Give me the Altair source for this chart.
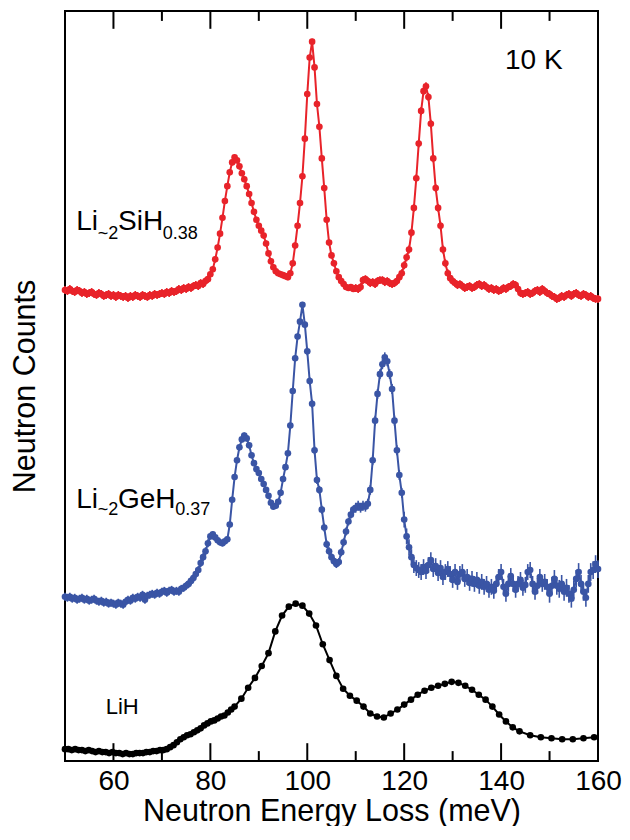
import altair as alt
import pandas as pd

FONT = "Liberation Sans"

# energy bins of the two Li-silicide / germanide spectra (meV)
bins = [50 + 0.5 * i for i in range(221)]

# Li~2SiH0.38 (offset counts, arbitrary units)
si_counts = [
    476, 475, 477, 475, 474, 476, 475, 473, 474, 472,
    473, 474, 472, 471, 473, 472, 470, 471, 472, 470,
    471, 469, 471, 470, 469, 470, 468, 470, 469, 471,
    470, 469, 471, 470, 469, 471, 470, 472, 471, 472,
    473, 472, 474, 473, 475, 474, 475, 477, 476, 478,
    477, 479, 478, 480, 481, 480, 483, 482, 485, 487,
    492, 497, 507, 519, 533, 549, 566, 581, 595, 605,
    610, 607, 601, 594, 588, 581, 573, 564, 555, 547,
    541, 536, 531, 523, 513, 505, 499, 495, 493, 492,
    491, 490, 489, 493, 503, 521, 541, 564, 591, 629,
    674, 711, 727, 701, 664, 641, 609, 579, 547, 524,
    511, 503, 495, 489, 485, 482, 479, 478, 479, 477,
    478, 477, 479, 486, 487, 485, 483, 484, 482, 485,
    486, 486, 484, 485, 483, 482, 483, 485, 489, 493,
    501, 509, 517, 534, 559, 589, 624, 657, 677, 682,
    671, 644, 609, 579, 559, 541, 517, 503, 493, 488,
    485, 483, 481, 482, 480, 478, 479, 480, 478, 479,
    481, 482, 480, 481, 479, 477, 478, 476, 477, 475,
    476, 478, 477, 479, 480, 482, 481, 477, 473, 472,
    473, 474, 472, 473, 475, 476, 474, 477, 475, 473,
    472, 470, 469, 467, 468, 470, 469, 471, 472, 470,
    472, 473, 471, 470, 472, 471, 469, 470, 468, 467,
    467,
]
# error bar half-widths, per 10 meV segment (50-60, ..., 150-160)
si_err_segments = [4, 4, 4, 3, 3, 3, 4, 4, 4, 4, 4]

# Li~2GeH0.37 (offset counts, arbitrary units)
ge_counts = [
    166, 165, 166, 164, 165, 163, 164, 165, 163, 164,
    162, 163, 164, 162, 161, 162, 160, 161, 159, 160,
    159, 158, 160, 159, 158, 161, 163, 162, 165, 164,
    166, 165, 168, 163, 167, 168, 169, 168, 170, 169,
    171, 172, 170, 172, 173, 171, 172, 171, 174, 175,
    177, 179, 182, 185, 189, 193, 200, 206, 212, 220,
    227, 229, 226, 223, 221, 220, 222, 224, 239, 264,
    287, 304, 317, 325, 329, 326, 319, 309, 301, 295,
    291, 285, 280, 274, 268, 261, 257, 258, 262, 271,
    285, 297, 311, 339, 374, 407, 429, 444, 461, 441,
    414, 384, 361, 314, 284, 274, 254, 236, 219, 212,
    206, 202, 199, 201, 211, 221, 232, 242, 249, 254,
    256, 258, 256, 258, 257, 260, 274, 304, 344, 371,
    391, 401, 408, 404, 391, 376, 344, 314, 289, 271,
    244, 227, 216, 206, 198, 195, 193, 191, 196, 192,
    198, 203, 194, 197, 190, 195, 186, 191, 194, 189,
    183, 191, 181, 189, 191, 184, 186, 180, 184, 179,
    183, 177, 181, 176, 179, 173, 176, 172, 179, 186,
    191, 176, 169, 179, 187, 179, 173, 179, 183, 175,
    178, 191, 193, 179, 171, 177, 186, 179, 181, 176,
    169, 177, 184, 177, 174, 179, 171, 175, 169, 164,
    173, 184, 191, 179, 171, 165, 179, 191, 193, 199,
    194,
]
ge_err_segments = [4, 4, 4, 3, 3, 4, 5, 8, 8, 8, 9]

# LiH
lih_energy = [
    50.0, 50.7, 51.4, 52.1, 52.8, 53.5, 54.2, 54.9, 55.6, 56.3,
    57.0, 57.7, 58.4, 59.1, 59.8, 60.5, 61.2, 61.9, 62.6, 63.3,
    64.0, 64.7, 65.4, 66.1, 66.8, 67.5, 68.2, 68.9, 69.6, 70.3,
    71.0, 71.7, 72.4, 73.1, 73.8, 74.5, 75.2, 75.9, 76.6, 77.3,
    78.0, 78.7, 79.4, 80.1, 80.8, 81.5, 82.2, 82.9, 83.6, 84.3,
    85.0, 86.4, 87.8, 89.2, 90.6, 92.0, 93.4, 94.8, 96.2, 97.6,
    99.0, 100.4, 101.8, 103.2, 104.6, 106.0, 107.4, 108.8, 110.2, 111.6,
    113.0, 114.4, 115.8, 117.2, 118.6, 120.0, 121.4, 122.8, 124.2, 125.6,
    127.0, 128.4, 129.8, 131.2, 132.6, 134.0, 135.4, 136.8, 138.2, 139.6,
    141.0, 142.4, 143.8, 146.0, 148.2, 150.4, 152.6, 154.8, 157.0, 159.2,
]
lih_counts = [
    12, 12, 11, 12, 11, 11, 10, 11, 10, 9,
    10, 9, 9, 8, 9, 8, 8, 7, 8, 7,
    7, 8, 8, 8, 9, 9, 10, 10, 11, 11,
    12, 14, 16, 19, 22, 24, 26, 27, 29, 31,
    33, 36, 38, 40, 41, 43, 45, 46, 49, 52,
    55, 63, 74, 84, 96, 109, 131, 147, 156, 159,
    157, 149, 137, 118, 102, 86, 73, 66, 61, 55,
    48, 45, 44, 48, 52, 57, 62, 67, 71, 74,
    76, 78, 80, 79, 76, 72, 67, 62, 55, 47,
    40, 34, 30, 26, 24, 23, 22, 22, 23, 24,
]

series_names = ["Li~2SiH0.38", "Li~2GeH0.37", "LiH"]
series_colors = ["#e8232a", "#3a55a5", "#000000"]
series_marker = [44, 44, 64]

x_label_values = [60, 80, 100, 120, 140, 160]
frame_ticks = [60, 70, 80, 90, 100, 110, 120, 130, 140, 150]

# annotation pieces: text, energy anchor, count anchor
main_text = ["Li", "SiH", "Li", "GeH", "10 K"]
main_x = [52.3, 60.94, 52.3, 60.94, 140.8]
main_y = [537, 537, 256, 256, 699]
sub_text = ["~2", "0.38", "~2", "0.37"]
sub_x = [56.78, 70.19, 56.78, 72.76]
sub_y = [528, 528, 249, 249]
lih_text = ["LiH"]
lih_x = [58.4]
lih_y = [47]


def seg_err(e, segs):
    return segs[min(int((e - 50) // 10), len(segs) - 1)]


rows = []
for e, c in zip(bins, si_counts):
    r = seg_err(e, si_err_segments)
    rows.append({"E": e, "C": c, "lo": c - r, "hi": c + r, "s": series_names[0]})
for e, c in zip(bins, ge_counts):
    r = seg_err(e, ge_err_segments)
    rows.append({"E": e, "C": c, "lo": c - r, "hi": c + r, "s": series_names[1]})
for e, c in zip(lih_energy, lih_counts):
    rows.append({"E": e, "C": c, "lo": c, "hi": c, "s": series_names[2]})
df = pd.DataFrame(rows)
err_df = df[df["s"] != series_names[2]]

Y_TOP = 758
tick_rows = []
for t in frame_ticks:
    L = 18 if t % 20 == 0 else 10
    tick_rows.append({"E": t, "C": 0, "C2": L})
    tick_rows.append({"E": t, "C": Y_TOP, "C2": Y_TOP - L})
ticks_df = pd.DataFrame(tick_rows)

main_df = pd.DataFrame({"E": main_x, "C": main_y, "t": main_text})
sub_df = pd.DataFrame({"E": sub_x, "C": sub_y, "t": sub_text})
lih_df = pd.DataFrame({"E": lih_x, "C": lih_y, "t": lih_text})

x_scale = alt.Scale(domain=[50, 160], nice=False, zero=False)
y_scale = alt.Scale(domain=[0, Y_TOP], nice=False, zero=False)
x_axis = alt.Axis(
    values=x_label_values, ticks=False, tickSize=0, domain=False, grid=False,
    labelFontSize=28, labelBaseline="alphabetic", labelPadding=28,
    labelFlush=False, labelOverlap=False,
    title="Neutron Energy Loss (meV)", titleFontSize=30.5,
    titleBaseline="alphabetic", titleY=59,
)
y_axis = alt.Axis(
    labels=False, ticks=False, domain=False, grid=False,
    title="Neutron Counts", titleFontSize=30.5,
    titleBaseline="alphabetic", titleX=-31,
)

X = alt.X("E:Q", scale=x_scale, axis=x_axis)
Y = alt.Y("C:Q", scale=y_scale, axis=y_axis)
color = alt.Color("s:N", scale=alt.Scale(domain=series_names, range=series_colors), legend=None)
size = alt.Size("s:N", scale=alt.Scale(domain=series_names, range=series_marker), legend=None)

errbars = alt.Chart(err_df).mark_rule(strokeWidth=1.6).encode(
    x=X, y=alt.Y("lo:Q", scale=y_scale, axis=y_axis), y2="hi:Q", color=color
)
lines = alt.Chart(df).mark_line(strokeWidth=2).encode(x=X, y=Y, color=color, detail="s:N")
points = alt.Chart(df).mark_circle(opacity=1).encode(x=X, y=Y, color=color, size=size)

tick_marks = alt.Chart(ticks_df).mark_rule(color="black", strokeWidth=2).encode(
    x=X, y=Y, y2="C2:Q"
)

main_labels = alt.Chart(main_df).mark_text(
    align="left", baseline="alphabetic", font=FONT, fontSize=28, color="black"
).encode(x=X, y=Y, text="t:N")
sub_labels = alt.Chart(sub_df).mark_text(
    align="left", baseline="alphabetic", font=FONT, fontSize=18, color="black"
).encode(x=X, y=Y, text="t:N")
lih_label = alt.Chart(lih_df).mark_text(
    align="left", baseline="alphabetic", font=FONT, fontSize=22, color="black"
).encode(x=X, y=Y, text="t:N")

chart = alt.layer(
    errbars, lines, points, tick_marks, main_labels, sub_labels, lih_label
).properties(
    width=533, height=750,
    autosize=alt.AutoSizeParams(type="none"),
    padding={"left": 57, "top": 3, "right": 24, "bottom": 65},
).configure_view(
    stroke="black", strokeWidth=2
).configure_axis(
    labelFont=FONT, titleFont=FONT, labelColor="black", titleColor="black",
    titleFontWeight="normal",
)

chart.save("out.html", embed_options={"renderer": "svg", "actions": False})
